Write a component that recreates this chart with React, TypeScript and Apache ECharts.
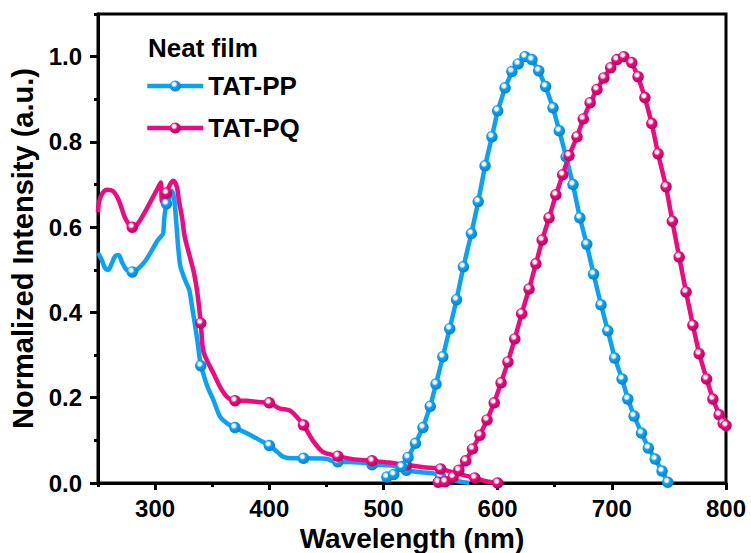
import React, { useEffect, useRef } from "react";
import * as echarts from "echarts";

// ---- Data ----
const seriesNames = ["TAT-PP", "TAT-PQ"];
const legendTitle = "Neat film";

// Absorption spectra (dense lines with sparse markers)
const ppAbsWavelength = [250, 253, 256, 259, 262, 265, 268, 271, 275, 280, 284, 288, 292, 297, 302, 305, 307, 308, 310, 313, 315, 317, 320, 322, 325, 328, 330, 332, 335, 337, 340, 342, 346, 351, 357, 363, 370, 380, 392, 400, 407, 412, 420, 430, 450, 455, 460, 470, 485, 490, 500, 510, 515, 520, 530, 545, 550, 560, 570, 575];
const ppAbsIntensity = [0.54, 0.525, 0.505, 0.5, 0.515, 0.532, 0.535, 0.518, 0.5, 0.495, 0.5, 0.51, 0.523, 0.545, 0.568, 0.578, 0.585, 0.62, 0.655, 0.67, 0.685, 0.66, 0.56, 0.51, 0.485, 0.465, 0.452, 0.42, 0.37, 0.335, 0.275, 0.258, 0.225, 0.195, 0.155, 0.14, 0.13, 0.117, 0.1, 0.088, 0.073, 0.062, 0.058, 0.058, 0.057, 0.052, 0.05, 0.049, 0.047, 0.043, 0.042, 0.04, 0.033, 0.03, 0.026, 0.022, 0.015, 0.007, 0.002, 0];
const ppAbsMarkers = [280, 310, 340, 370, 400, 430, 460, 490, 520, 550];

const pqAbsWavelength = [250, 251, 254, 258, 263, 267, 270, 274, 280, 283, 287, 292, 298, 302, 305, 306, 308, 310, 313, 316, 319, 321, 323.5, 326, 330.5, 334, 337, 340, 342, 345, 351, 357, 363, 370, 380, 390, 400, 409, 418, 424, 430, 438, 447, 460, 473, 490, 505, 520, 535, 550, 565, 580, 590, 600];
const pqAbsIntensity = [0.635, 0.66, 0.68, 0.688, 0.685, 0.67, 0.65, 0.62, 0.6, 0.602, 0.617, 0.64, 0.67, 0.69, 0.705, 0.66, 0.67, 0.68, 0.7, 0.709, 0.695, 0.66, 0.624, 0.577, 0.53, 0.493, 0.446, 0.375, 0.312, 0.29, 0.258, 0.225, 0.202, 0.193, 0.193, 0.19, 0.188, 0.175, 0.17, 0.155, 0.136, 0.1, 0.073, 0.063, 0.056, 0.052, 0.048, 0.042, 0.037, 0.033, 0.022, 0.012, 0.004, 0];
const pqAbsMarkers = [280, 310, 340, 370, 400, 430, 460, 490, 520, 550, 580, 600];

// Photoluminescence spectra (every point marked)
const ppPlWavelength = [503, 509, 516, 521.5, 528, 534.6, 541, 546, 552, 558, 564, 570, 577, 583, 589, 595, 600, 606.5, 612.5, 618, 624, 630, 636, 642, 648.5, 654, 660, 666, 672, 678, 684, 690.5, 696.5, 702.5, 709, 714, 719.5, 726, 732, 738, 744, 749];
const ppPlIntensity = [0.014, 0.02, 0.038, 0.06, 0.093, 0.13, 0.18, 0.232, 0.296, 0.362, 0.43, 0.507, 0.585, 0.66, 0.744, 0.812, 0.873, 0.927, 0.965, 0.983, 1.0, 0.993, 0.967, 0.93, 0.88, 0.826, 0.765, 0.7, 0.622, 0.56, 0.49, 0.418, 0.357, 0.293, 0.244, 0.197, 0.157, 0.117, 0.082, 0.056, 0.028, 0.002];

const pqPlWavelength = [548, 554, 561, 566, 572, 578, 584.5, 590.7, 597, 603, 609, 615, 621, 627.5, 633.5, 639, 645, 651, 657, 662.5, 669.5, 675, 681, 687, 693, 699, 704.5, 710.5, 717.5, 723, 729, 735, 740.5, 747.5, 753, 759, 765, 771, 776.5, 783, 788.5, 794, 797.5, 800];
const pqPlIntensity = [0.002, 0.003, 0.014, 0.03, 0.052, 0.08, 0.112, 0.148, 0.188, 0.235, 0.284, 0.338, 0.397, 0.455, 0.514, 0.57, 0.622, 0.676, 0.723, 0.768, 0.812, 0.854, 0.892, 0.923, 0.95, 0.974, 0.993, 1.0, 0.986, 0.953, 0.904, 0.843, 0.772, 0.695, 0.614, 0.53, 0.448, 0.37, 0.303, 0.244, 0.197, 0.16, 0.14, 0.135];

// Axis ticks / labels
const wavelengthMajorTicks = [300, 400, 500, 600, 700, 800];
const wavelengthMinorTicks = [250, 350, 450, 550, 650, 750];
const intensityMajorTicks = [0, 0.2, 0.4, 0.6, 0.8, 1.0];
const intensityMinorTicks = [0.1, 0.3, 0.5, 0.7, 0.9, 1.1];

const BLUE = "#0aa2f5";
const BLUE_DARK = "#0680cc";
const PINK = "#ee0a80";
const PINK_DARK = "#b8005f";
const FONT = '"Liberation Sans", Arial, Helvetica, sans-serif';

function sphere(c: string, dark: string) {
  return new echarts.graphic.RadialGradient(0.4, 0.35, 0.65, [
    { offset: 0, color: "#ffffff" },
    { offset: 0.2, color: "#ffffff" },
    { offset: 0.45, color: c },
    { offset: 1, color: dark },
  ]);
}

function absData(xs: number[], ys: number[], markers: number[]) {
  return xs.map((x, i) => ({
    value: [x, ys[i]],
    symbol: markers.indexOf(x) >= 0 ? "circle" : "none",
  }));
}

function plData(xs: number[], ys: number[]) {
  return xs.map((x, i) => [x, ys[i]]);
}

export default function App() {
  const ref = useRef<HTMLDivElement>(null);

  useEffect(() => {
    if (!ref.current) return;
    const chart = echarts.init(ref.current, undefined, { renderer: "svg" });

    const axisLine = { show: true, onZero: false, lineStyle: { color: "#000", width: 3 } };

    const lineSeries = (name: string, data: any, color: string, dark: string, smooth: boolean | number) => ({
      type: "line",
      name,
      data,
      smooth,
      symbol: "circle",
      symbolSize: 11.5,
      showSymbol: true,
      clip: false,
      lineStyle: { color, width: 4.5 },
      itemStyle: { color: sphere(color, dark), borderWidth: 0 },
      emphasis: { disabled: true },
    });

    chart.setOption({
      animation: false,
      backgroundColor: "#fff",
      textStyle: { fontFamily: FONT },
      title: {
        text: legendTitle,
        left: 148,
        top: 35,
        padding: 0,
        textStyle: { fontFamily: FONT, fontWeight: "bold", fontSize: 26, color: "#000" },
      },
      legend: {
        data: seriesNames,
        orient: "vertical",
        left: 145,
        top: 73,
        padding: 0,
        itemWidth: 56,
        itemHeight: 14,
        itemGap: 16,
        lineStyle: { width: 4.5 },
        textStyle: { fontFamily: FONT, fontWeight: "bold", fontSize: 26, color: "#000" },
        selectedMode: false,
      },
      grid: {
        left: 98,
        right: 25,
        top: 14,
        bottom: 70,
        containLabel: false,
        outerBoundsMode: "none",
        show: true,
        borderColor: "#000",
        borderWidth: 3,
        backgroundColor: "transparent",
      },
      xAxis: [
        {
          type: "value",
          min: 250,
          max: 800,
          name: "Wavelength (nm)",
          nameLocation: "middle",
          nameGap: 40,
          nameTextStyle: { fontFamily: FONT, fontWeight: "bold", fontSize: 28, color: "#000" },
          axisLine,
          axisTick: { show: true, inside: false, length: 7, lineStyle: { color: "#000", width: 3 }, customValues: wavelengthMajorTicks },
          axisLabel: { show: true, margin: 13, fontFamily: FONT, fontWeight: "bold", fontSize: 24, color: "#000", customValues: wavelengthMajorTicks },
          splitLine: { show: false },
        },
        {
          type: "value",
          position: "bottom",
          min: 250,
          max: 800,
          axisLine: { show: false },
          axisTick: { show: true, inside: false, length: 4, lineStyle: { color: "#000", width: 3 }, customValues: wavelengthMinorTicks },
          axisLabel: { show: false },
          splitLine: { show: false },
        },
      ],
      yAxis: [
        {
          type: "value",
          min: 0,
          max: 1.1,
          name: "Normalized Intensity (a.u.)",
          nameLocation: "middle",
          nameGap: 60,
          nameRotate: 90,
          nameTextStyle: { fontFamily: FONT, fontWeight: "bold", fontSize: 29, color: "#000" },
          axisLine,
          axisTick: { show: true, inside: false, length: 8, lineStyle: { color: "#000", width: 3 }, customValues: intensityMajorTicks },
          axisLabel: {
            show: true,
            margin: 16,
            fontFamily: FONT,
            fontWeight: "bold",
            fontSize: 24,
            color: "#000",
            customValues: intensityMajorTicks,
            formatter: (v: number) => v.toFixed(1),
          },
          splitLine: { show: false },
        },
        {
          type: "value",
          position: "left",
          min: 0,
          max: 1.1,
          axisLine: { show: false },
          axisTick: { show: true, inside: false, length: 4, lineStyle: { color: "#000", width: 3 }, customValues: intensityMinorTicks },
          axisLabel: { show: false },
          splitLine: { show: false },
        },
      ],
      series: [
        lineSeries("TAT-PP absorption", absData(ppAbsWavelength, ppAbsIntensity, ppAbsMarkers), BLUE, BLUE_DARK, 0.3),
        lineSeries("TAT-PQ absorption", absData(pqAbsWavelength, pqAbsIntensity, pqAbsMarkers), PINK, PINK_DARK, 0.3),
        lineSeries(seriesNames[0], plData(ppPlWavelength, ppPlIntensity), BLUE, BLUE_DARK, false),
        lineSeries(seriesNames[1], plData(pqPlWavelength, pqPlIntensity), PINK, PINK_DARK, false),
      ],
    });

    return () => chart.dispose();
  }, []);

  return (
    <div
      ref={ref}
      style={{ position: "fixed", left: 0, top: 0, width: 751, height: 553, background: "#fff" }}
    />
  );
}
